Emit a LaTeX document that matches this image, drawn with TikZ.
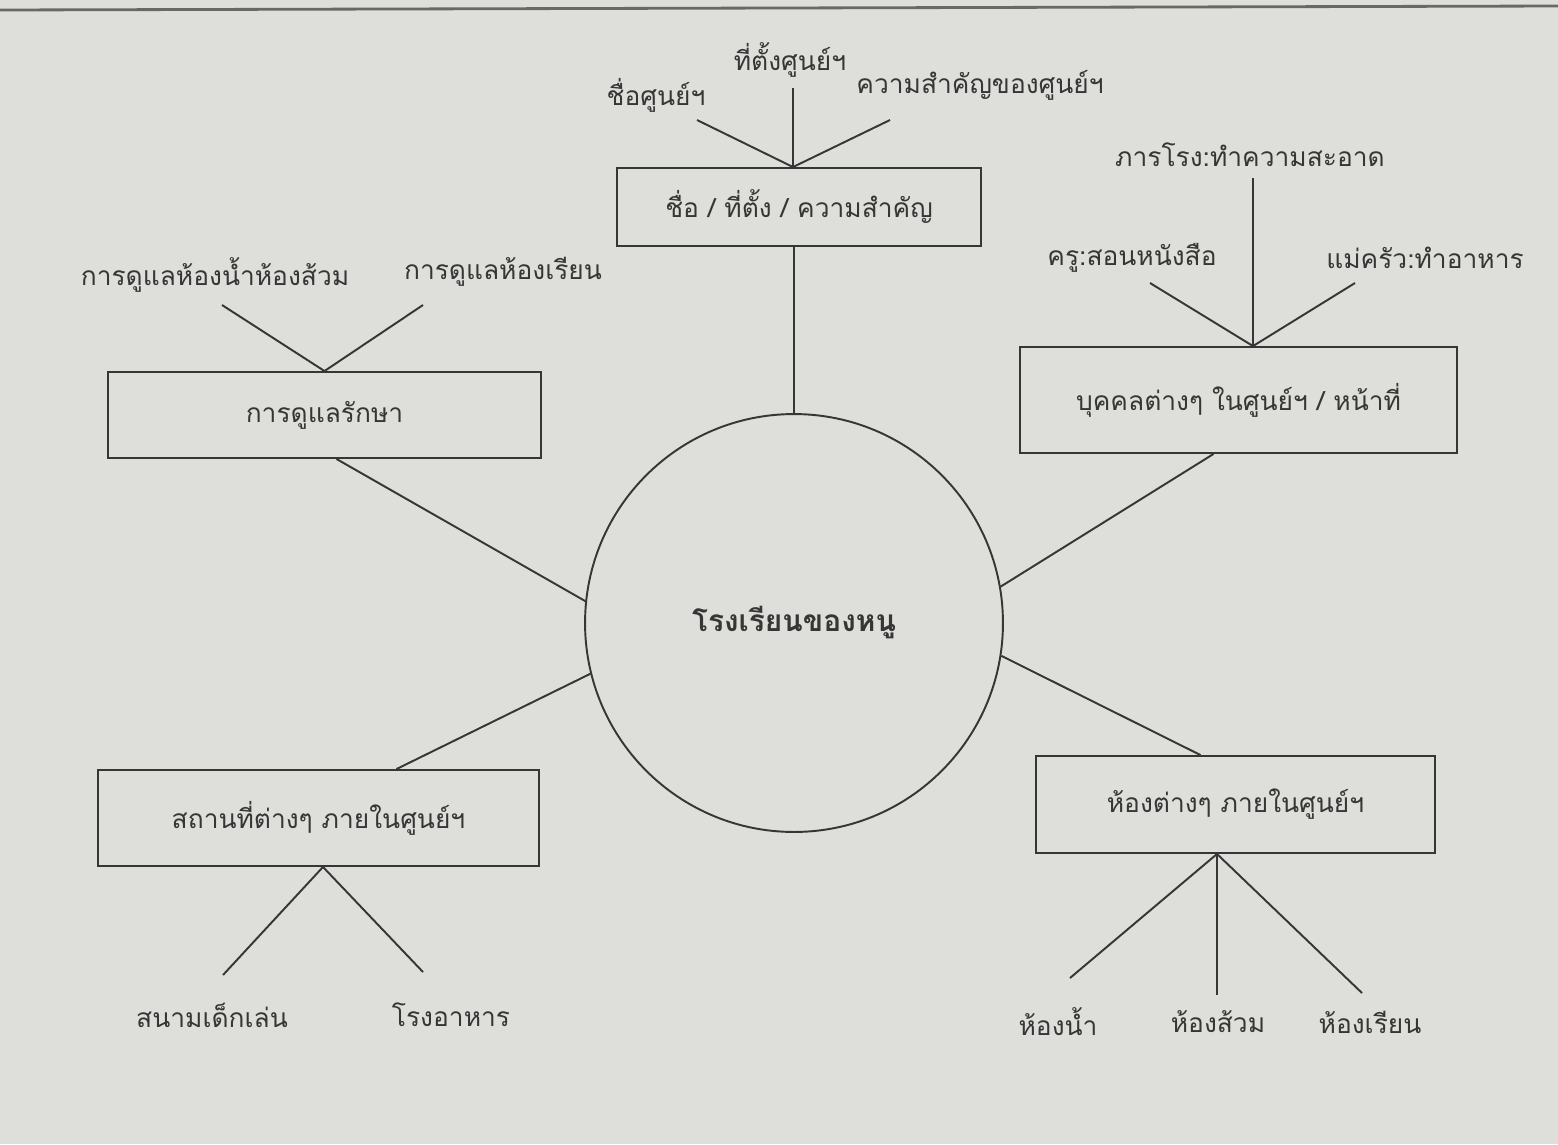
\documentclass[tikz,border=0pt]{standalone}
\usepackage{fontspec}
\usepackage{tikz}
\usetikzlibrary{calc,positioning}
\newfontfamily\thaifont[Script=Thai]{Loma}
\definecolor{ink}{HTML}{363636}
\definecolor{paper}{HTML}{DEDFDA}

\begin{document}
\begin{tikzpicture}[x=0.02cm,y=-0.02cm,
	every node/.style={font=\thaifont\fontsize{15}{18}\selectfont, text=ink},
	box/.style={draw=ink, line width=1.1pt, rectangle, inner sep=0pt},
	link/.style={draw=ink, line width=1.1pt}]
	\fill[paper] (0,0) rectangle (1558,1144);
	\useasboundingbox (0,0) rectangle (1558,1144);
	\draw[line width=1.6pt, ink!75] (0,10) -- (1558,6);
	% centre
	\node[circle, draw=ink, line width=1.1pt, minimum size=8.36cm, inner sep=0pt, font=\thaifont\bfseries\fontsize{17}{20}\selectfont] (hub) at (794,623) {โรงเรียนของหนู};
	% boxes
	\node[box, minimum width=7.28cm, minimum height=1.56cm] (info) at (799,207) {ชื่อ / ที่ตั้ง / ความสำคัญ};
	\node[box, minimum width=8.66cm, minimum height=1.72cm] (care) at (324.5,415) {การดูแลรักษา};
	\node[box, minimum width=8.74cm, minimum height=2.12cm] (staff) at (1238.5,400) {บุคคลต่างๆ ในศูนย์ฯ / หน้าที่};
	\node[box, minimum width=8.82cm, minimum height=1.92cm] (place) at (318.5,818) {สถานที่ต่างๆ ภายในศูนย์ฯ};
	\node[box, minimum width=7.98cm, minimum height=1.94cm] (room) at (1235.5,804.5) {ห้องต่างๆ ภายในศูนย์ฯ};
	% leaves
	\node (infoname) at (656,95) {ชื่อศูนย์ฯ};
	\node (infoloc) at (790,60) {ที่ตั้งศูนย์ฯ};
	\node (infoimp) at (980,85) {ความสำคัญของศูนย์ฯ};
	\node (carewc) at (215,275) {การดูแลห้องน้ำห้องส้วม};
	\node (careclass) at (503,272) {การดูแลห้องเรียน};
	\node (staffjan) at (1250,155) {ภารโรง:ทำความสะอาด};
	\node (staffteach) at (1132,258) {ครู:สอนหนังสือ};
	\node (staffcook) at (1425,258) {แม่ครัว:ทำอาหาร};
	\node (placeplay) at (212,1015) {สนามเด็กเล่น};
	\node (placefood) at (451,1015) {โรงอาหาร};
	\node (roomwc) at (1058,1022) {ห้องน้ำ};
	\node (roomtoilet) at (1218,1022) {ห้องส้วม};
	\node (roomclass) at (1370,1022) {ห้องเรียน};
	% free ends
	\coordinate (infonameend) at (697,120);
	\coordinate (infolocend) at (793,88);
	\coordinate (infoimpend) at (890,120);
	\coordinate (carewcend) at (222,305);
	\coordinate (careclassend) at (423,305);
	\coordinate (staffjanend) at (1253,178);
	\coordinate (staffteachend) at (1150,283);
	\coordinate (staffcookend) at (1355,283);
	\coordinate (placeplayend) at (223,975);
	\coordinate (placefoodend) at (423,972);
	\coordinate (roomwcend) at (1070,978);
	\coordinate (roomtoiletend) at (1217,995);
	\coordinate (roomclassend) at (1362,993);
	% junctions
	\coordinate (infotop) at ($(info.north)+(-6,0)$);
	\coordinate (caretop) at (care.north);
	\coordinate (stafftop) at ($(staff.north)+(14.5,0)$);
	\coordinate (placebot) at ($(place.south)+(4.5,0)$);
	\coordinate (roombot) at ($(room.south)+(-18.5,0)$);
	% spokes
	\draw[link] ($(info.south)+(-5,0)$) -- (hub.north);
	\draw[link] ($(care.south)+(12,0)$) -- (hub.174);
	\draw[link] ($(staff.south)+(-25,0)$) -- (hub.10);
	\draw[link] ($(place.north)+(78,0)$) -- (hub.194);
	\draw[link] ($(room.north)+(-35,0)$) -- (hub.351);
	% twigs
	\foreach \e in {infoname,infoloc,infoimp}
		\draw[link] (infotop) -- (\e end);
	\foreach \e in {carewc,careclass}
		\draw[link] (caretop) -- (\e end);
	\foreach \e in {staffjan,staffteach,staffcook}
		\draw[link] (stafftop) -- (\e end);
	\foreach \e in {placeplay,placefood}
		\draw[link] (placebot) -- (\e end);
	\foreach \e in {roomwc,roomtoilet,roomclass}
		\draw[link] (roombot) -- (\e end);
\end{tikzpicture}
\end{document}
